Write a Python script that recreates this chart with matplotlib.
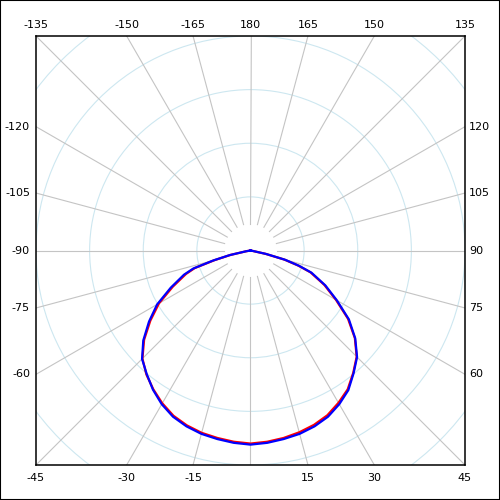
import numpy as np
import matplotlib
matplotlib.use("Agg")
import matplotlib.pyplot as plt
from matplotlib.patches import Rectangle, Circle

# ---- data -------------------------------------------------------------
# polar angle in degrees (0 = straight down, +90 = right, 180 = up)
angles = [-180, -170, -160, -150, -140, -130, -120, -110, -100, -90, -85,
          -80, -77.5, -75, -72.5, -70, -65, -60,
          -55, -50, -45, -40, -35, -30, -25, -20, -15, -10, -5, 0, 5, 10, 15, 20,
          25, 30, 35, 40, 45, 50, 55, 60, 65, 70, 72.5, 75, 77.5, 80,
          85, 90, 100, 110, 120, 130, 140, 150, 160, 170, 180]

blue_values = [0, 0, 0, 0, 0, 0, 0, 0, 0, 0, 0,
               9, 40, 72, 112, 132, 164, 201,
               231, 261, 286, 301, 317, 331, 342, 349, 354, 357, 360, 362, 360, 357, 354, 349,
               342, 331, 318, 299, 281, 255, 224, 186, 154, 121, 95, 67, 30, 3,
               0, 0, 0, 0, 0, 0, 0, 0, 0, 0, 0]

red_values = [0, 0, 0, 0, 0, 0, 0, 0, 0, 0, 0,
              8, 38, 69, 109, 128, 160, 197,
              228, 259, 285, 302, 316, 329, 340, 347, 352, 355, 358, 360, 358, 355, 351, 346,
              339, 328, 316, 298, 280, 254, 222, 184, 152, 119, 93, 65, 28, 2,
              0, 0, 0, 0, 0, 0, 0, 0, 0, 0, 0]

ring_values = [100, 200, 300, 400, 500]
spoke_angles = list(range(-165, 181, 15))
tick_angles = [-135, -150, -165, 180, 165, 150, 135,
               -120, -105, -90, -75, -60,
               120, 105, 90, 75, 60,
               -45, -30, -15, 15, 30, 45]
tick_labels = ["-135", "-150", "-165", "180", "165", "150", "135",
               "-120", "-105", "-90", "-75", "-60",
               "120", "105", "90", "75", "60",
               "-45", "-30", "-15", "15", "30", "45"]

R = 400  # half-width of the square frame in data units


def to_xy(theta_deg, r):
    t = np.radians(np.asarray(theta_deg, dtype=float))
    r = np.asarray(r, dtype=float)
    return r * np.sin(t), -r * np.cos(t)


fig = plt.figure(figsize=(5, 5), dpi=100)
ax = fig.add_axes([0.072, 0.07, 0.858, 0.858])
ax.set_xlim(-R, R)
ax.set_ylim(-R, R)
ax.set_aspect("equal")
ax.set_xticks([])
ax.set_yticks([])
for s in ax.spines.values():
    s.set_color("black")
    s.set_linewidth(1.1)

# rings
for rv in ring_values:
    c = Circle((0, 0), rv, fill=False, ec="#cde7f0", lw=0.8, zorder=1)
    ax.add_patch(c)

# spokes
for a in spoke_angles:
    x, y = to_xy([a, a], [50, 2 * R])
    ax.plot(x, y, color="#c4c4c4", lw=0.8, zorder=2)

# curves
xr, yr = to_xy(angles, red_values)
ax.plot(xr, yr, color="#ff0000", lw=1.6, zorder=3)
xb, yb = to_xy(angles, blue_values)
ax.plot(xb, yb, color="#0000ff", lw=1.6, zorder=4)

# angle labels on the square frame
for a, lab in zip(tick_angles, tick_labels):
    t = np.radians(a)
    s_, c_ = np.sin(t), -np.cos(t)
    k = R / max(abs(s_), abs(c_))
    x, y = s_ * k, c_ * k
    if abs(c_) >= abs(s_) - 1e-6:
        if c_ > 0:
            off, ha, va = (0, 11), "center", "center"
        else:
            off, ha, va = (0, -13), "center", "center"
    else:
        if s_ < 0:
            off, ha, va = (-6, 0), "right", "center"
        else:
            off, ha, va = (4, 0), "left", "center"
    ax.annotate(lab, xy=(x, y), xytext=off, textcoords="offset pixels",
                ha=ha, va=va, fontsize=8, color="black",
                family="DejaVu Sans", annotation_clip=False)

fig.patches.append(Rectangle((0, 0), 1, 1, transform=fig.transFigure,
                             fill=False, ec="black", lw=1.5))

fig.savefig("out.png", dpi=100, facecolor="white")
